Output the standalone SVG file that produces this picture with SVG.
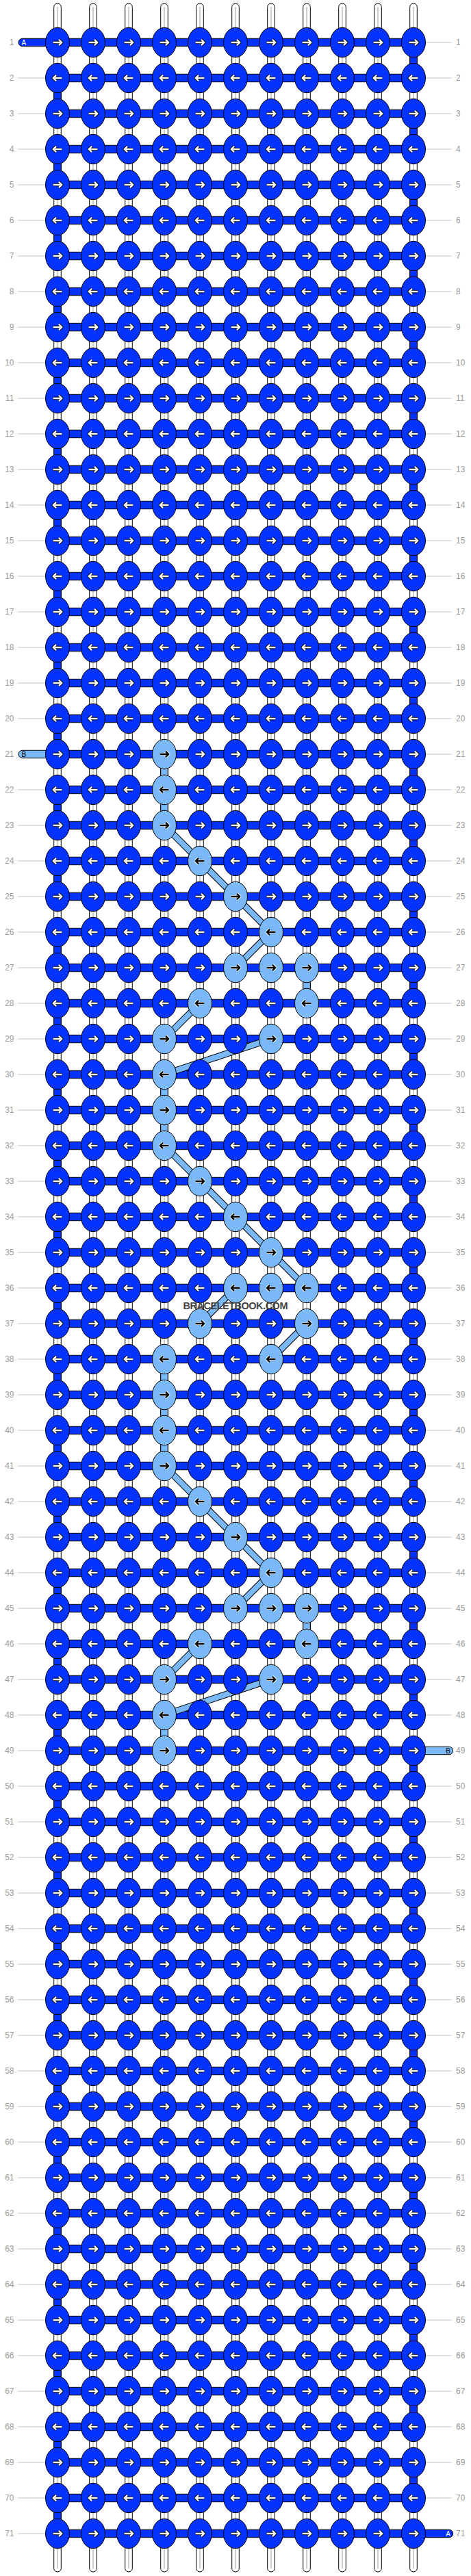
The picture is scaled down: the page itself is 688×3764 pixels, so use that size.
<svg xmlns="http://www.w3.org/2000/svg" xmlns:xlink="http://www.w3.org/1999/xlink" width="688" height="3764" viewBox="0 0 688 3764">
<style>
text{font-family:"Liberation Sans",Arial,sans-serif}
.lab{font-size:12px;fill:#9a9a9a}
.le{text-anchor:end}
.gl{stroke:#c4c4c4;stroke-width:1;fill:none}
.st{fill:#fff;stroke:#000;stroke-width:1}
.si{stroke:#d0d0d0;stroke-width:2.2}
.db{fill:#0433ff;stroke:#000;stroke-width:1}
.lb{fill:#7ab8f7;stroke:#000;stroke-width:1}
.dg0{stroke:#000;stroke-width:10}
.dg1{stroke:#7ab8f7;stroke-width:8}
.ao{fill:none;stroke:#000;stroke-width:4.4;stroke-linejoin:round}
.aw{fill:none;stroke:#fff;stroke-width:2.4;stroke-linejoin:round}
.bo{fill:none;stroke:#fff;stroke-width:4.2;stroke-linejoin:round}
.bk{fill:none;stroke:#000;stroke-width:2.4;stroke-linejoin:round}
.sw{font-size:10px;fill:#fff}
.sb{font-size:10px;fill:#000}
.wm{font-size:14.5px;font-weight:bold;fill:#444;text-anchor:middle}
</style>
<defs>
<g id="dr"><ellipse class="db" rx="17.5" ry="21.7"/><path class="ao" d="M-6.3 0H5.6M2-4.2 6.3 0 2 4.2"/><path class="aw" d="M-6.3 0H5.6M2-4.2 6.3 0 2 4.2"/></g>
<g id="dl"><ellipse class="db" rx="17.5" ry="21.7"/><path class="ao" d="M6.3 0H-5.6M-2-4.2-6.3 0-2 4.2"/><path class="aw" d="M6.3 0H-5.6M-2-4.2-6.3 0-2 4.2"/></g>
<g id="lr"><ellipse class="lb" rx="17.5" ry="21.7"/><path class="bo" d="M-6.3 0H5.6M2-4.2 6.3 0 2 4.2"/><path class="bk" d="M-6.3 0H5.6M2-4.2 6.3 0 2 4.2"/></g>
<g id="ll"><ellipse class="lb" rx="17.5" ry="21.7"/><path class="bo" d="M6.3 0H-5.6M-2-4.2-6.3 0-2 4.2"/><path class="bk" d="M6.3 0H-5.6M-2-4.2-6.3 0-2 4.2"/></g>
<rect id="vd" class="db" x="-5.3" y="0" width="10.6" height="52"/>
<rect id="vl" class="lb" x="-5.3" y="0" width="10.6" height="52"/>
<rect id="hb" class="db" x="84" y="-5.7" width="520" height="11.4"/>
</defs>
<rect width="688" height="3764" fill="#fff"/>
<g id="row-labels" class="lab">
<path class="gl" d="M26 114H66M26 166H66M26 218H66M26 270H66M26 322H66M26 374H66M26 426H66M26 478H66M26 530H66M26 582H66M26 634H66M26 686H66M26 738H66M26 790H66M26 842H66M26 894H66M26 946H66M26 998H66M26 1050H66M26 1154H66M26 1206H66M26 1258H66M26 1310H66M26 1362H66M26 1414H66M26 1466H66M26 1518H66M26 1570H66M26 1622H66M26 1674H66M26 1726H66M26 1778H66M26 1830H66M26 1882H66M26 1934H66M26 1986H66M26 2038H66M26 2090H66M26 2142H66M26 2194H66M26 2246H66M26 2298H66M26 2350H66M26 2402H66M26 2454H66M26 2506H66M26 2558H66M26 2610H66M26 2662H66M26 2714H66M26 2766H66M26 2818H66M26 2870H66M26 2922H66M26 2974H66M26 3026H66M26 3078H66M26 3130H66M26 3182H66M26 3234H66M26 3286H66M26 3338H66M26 3390H66M26 3442H66M26 3494H66M26 3546H66M26 3598H66M26 3650H66M26 3702H66"/>
<path class="gl" d="M622 62H660M622 114H660M622 166H660M622 218H660M622 270H660M622 322H660M622 374H660M622 426H660M622 478H660M622 530H660M622 582H660M622 634H660M622 686H660M622 738H660M622 790H660M622 842H660M622 894H660M622 946H660M622 998H660M622 1050H660M622 1102H660M622 1154H660M622 1206H660M622 1258H660M622 1310H660M622 1362H660M622 1414H660M622 1466H660M622 1518H660M622 1570H660M622 1622H660M622 1674H660M622 1726H660M622 1778H660M622 1830H660M622 1882H660M622 1934H660M622 1986H660M622 2038H660M622 2090H660M622 2142H660M622 2194H660M622 2246H660M622 2298H660M622 2350H660M622 2402H660M622 2454H660M622 2506H660M622 2610H660M622 2662H660M622 2714H660M622 2766H660M622 2818H660M622 2870H660M622 2922H660M622 2974H660M622 3026H660M622 3078H660M622 3130H660M622 3182H660M622 3234H660M622 3286H660M622 3338H660M622 3390H660M622 3442H660M622 3494H660M622 3546H660M622 3598H660M622 3650H660"/>
<g class="le">
<text x="20.5" y="66">1</text><text x="20.5" y="118">2</text><text x="20.5" y="170">3</text><text x="20.5" y="222">4</text><text x="20.5" y="274">5</text><text x="20.5" y="326">6</text><text x="20.5" y="378">7</text><text x="20.5" y="430">8</text><text x="20.5" y="482">9</text><text x="20.5" y="534">10</text>
<text x="20.5" y="586">11</text><text x="20.5" y="638">12</text><text x="20.5" y="690">13</text><text x="20.5" y="742">14</text><text x="20.5" y="794">15</text><text x="20.5" y="846">16</text><text x="20.5" y="898">17</text><text x="20.5" y="950">18</text><text x="20.5" y="1002">19</text><text x="20.5" y="1054">20</text>
<text x="20.5" y="1106">21</text><text x="20.5" y="1158">22</text><text x="20.5" y="1210">23</text><text x="20.5" y="1262">24</text><text x="20.5" y="1314">25</text><text x="20.5" y="1366">26</text><text x="20.5" y="1418">27</text><text x="20.5" y="1470">28</text><text x="20.5" y="1522">29</text><text x="20.5" y="1574">30</text>
<text x="20.5" y="1626">31</text><text x="20.5" y="1678">32</text><text x="20.5" y="1730">33</text><text x="20.5" y="1782">34</text><text x="20.5" y="1834">35</text><text x="20.5" y="1886">36</text><text x="20.5" y="1938">37</text><text x="20.5" y="1990">38</text><text x="20.5" y="2042">39</text><text x="20.5" y="2094">40</text>
<text x="20.5" y="2146">41</text><text x="20.5" y="2198">42</text><text x="20.5" y="2250">43</text><text x="20.5" y="2302">44</text><text x="20.5" y="2354">45</text><text x="20.5" y="2406">46</text><text x="20.5" y="2458">47</text><text x="20.5" y="2510">48</text><text x="20.5" y="2562">49</text><text x="20.5" y="2614">50</text>
<text x="20.5" y="2666">51</text><text x="20.5" y="2718">52</text><text x="20.5" y="2770">53</text><text x="20.5" y="2822">54</text><text x="20.5" y="2874">55</text><text x="20.5" y="2926">56</text><text x="20.5" y="2978">57</text><text x="20.5" y="3030">58</text><text x="20.5" y="3082">59</text><text x="20.5" y="3134">60</text>
<text x="20.5" y="3186">61</text><text x="20.5" y="3238">62</text><text x="20.5" y="3290">63</text><text x="20.5" y="3342">64</text><text x="20.5" y="3394">65</text><text x="20.5" y="3446">66</text><text x="20.5" y="3498">67</text><text x="20.5" y="3550">68</text><text x="20.5" y="3602">69</text><text x="20.5" y="3654">70</text>
<text x="20.5" y="3706">71</text>
</g>
<g>
<text x="666" y="66">1</text><text x="666" y="118">2</text><text x="666" y="170">3</text><text x="666" y="222">4</text><text x="666" y="274">5</text><text x="666" y="326">6</text><text x="666" y="378">7</text><text x="666" y="430">8</text><text x="666" y="482">9</text><text x="666" y="534">10</text>
<text x="666" y="586">11</text><text x="666" y="638">12</text><text x="666" y="690">13</text><text x="666" y="742">14</text><text x="666" y="794">15</text><text x="666" y="846">16</text><text x="666" y="898">17</text><text x="666" y="950">18</text><text x="666" y="1002">19</text><text x="666" y="1054">20</text>
<text x="666" y="1106">21</text><text x="666" y="1158">22</text><text x="666" y="1210">23</text><text x="666" y="1262">24</text><text x="666" y="1314">25</text><text x="666" y="1366">26</text><text x="666" y="1418">27</text><text x="666" y="1470">28</text><text x="666" y="1522">29</text><text x="666" y="1574">30</text>
<text x="666" y="1626">31</text><text x="666" y="1678">32</text><text x="666" y="1730">33</text><text x="666" y="1782">34</text><text x="666" y="1834">35</text><text x="666" y="1886">36</text><text x="666" y="1938">37</text><text x="666" y="1990">38</text><text x="666" y="2042">39</text><text x="666" y="2094">40</text>
<text x="666" y="2146">41</text><text x="666" y="2198">42</text><text x="666" y="2250">43</text><text x="666" y="2302">44</text><text x="666" y="2354">45</text><text x="666" y="2406">46</text><text x="666" y="2458">47</text><text x="666" y="2510">48</text><text x="666" y="2562">49</text><text x="666" y="2614">50</text>
<text x="666" y="2666">51</text><text x="666" y="2718">52</text><text x="666" y="2770">53</text><text x="666" y="2822">54</text><text x="666" y="2874">55</text><text x="666" y="2926">56</text><text x="666" y="2978">57</text><text x="666" y="3030">58</text><text x="666" y="3082">59</text><text x="666" y="3134">60</text>
<text x="666" y="3186">61</text><text x="666" y="3238">62</text><text x="666" y="3290">63</text><text x="666" y="3342">64</text><text x="666" y="3394">65</text><text x="666" y="3446">66</text><text x="666" y="3498">67</text><text x="666" y="3550">68</text><text x="666" y="3602">69</text><text x="666" y="3654">70</text>
<text x="666" y="3706">71</text>
</g>
</g>
<g id="strands">
<rect class="st" x="78.7" y="5" width="10.6" height="3753" rx="5.3"/><line class="si" x1="84" y1="10" x2="84" y2="3753"/>
<rect class="st" x="130.7" y="5" width="10.6" height="3753" rx="5.3"/><line class="si" x1="136" y1="10" x2="136" y2="3753"/>
<rect class="st" x="182.7" y="5" width="10.6" height="3753" rx="5.3"/><line class="si" x1="188" y1="10" x2="188" y2="3753"/>
<rect class="st" x="234.7" y="5" width="10.6" height="3753" rx="5.3"/><line class="si" x1="240" y1="10" x2="240" y2="3753"/>
<rect class="st" x="286.7" y="5" width="10.6" height="3753" rx="5.3"/><line class="si" x1="292" y1="10" x2="292" y2="3753"/>
<rect class="st" x="338.7" y="5" width="10.6" height="3753" rx="5.3"/><line class="si" x1="344" y1="10" x2="344" y2="3753"/>
<rect class="st" x="390.7" y="5" width="10.6" height="3753" rx="5.3"/><line class="si" x1="396" y1="10" x2="396" y2="3753"/>
<rect class="st" x="442.7" y="5" width="10.6" height="3753" rx="5.3"/><line class="si" x1="448" y1="10" x2="448" y2="3753"/>
<rect class="st" x="494.7" y="5" width="10.6" height="3753" rx="5.3"/><line class="si" x1="500" y1="10" x2="500" y2="3753"/>
<rect class="st" x="546.7" y="5" width="10.6" height="3753" rx="5.3"/><line class="si" x1="552" y1="10" x2="552" y2="3753"/>
<rect class="st" x="598.7" y="5" width="10.6" height="3753" rx="5.3"/><line class="si" x1="604" y1="10" x2="604" y2="3753"/>
</g>
<g id="connectors">
<g id="rows-h">
<use href="#hb" y="62"/><use href="#hb" y="114"/><use href="#hb" y="166"/><use href="#hb" y="218"/><use href="#hb" y="270"/><use href="#hb" y="322"/><use href="#hb" y="374"/><use href="#hb" y="426"/><use href="#hb" y="478"/><use href="#hb" y="530"/>
<use href="#hb" y="582"/><use href="#hb" y="634"/><use href="#hb" y="686"/><use href="#hb" y="738"/><use href="#hb" y="790"/><use href="#hb" y="842"/><use href="#hb" y="894"/><use href="#hb" y="946"/><use href="#hb" y="998"/><use href="#hb" y="1050"/>
<use href="#hb" y="1102"/><use href="#hb" y="1154"/><use href="#hb" y="1206"/><use href="#hb" y="1258"/><use href="#hb" y="1310"/><use href="#hb" y="1362"/><use href="#hb" y="1414"/><use href="#hb" y="1466"/><use href="#hb" y="1518"/><use href="#hb" y="1570"/>
<use href="#hb" y="1622"/><use href="#hb" y="1674"/><use href="#hb" y="1726"/><use href="#hb" y="1778"/><use href="#hb" y="1830"/><use href="#hb" y="1882"/><use href="#hb" y="1934"/><use href="#hb" y="1986"/><use href="#hb" y="2038"/><use href="#hb" y="2090"/>
<use href="#hb" y="2142"/><use href="#hb" y="2194"/><use href="#hb" y="2246"/><use href="#hb" y="2298"/><use href="#hb" y="2350"/><use href="#hb" y="2402"/><use href="#hb" y="2454"/><use href="#hb" y="2506"/><use href="#hb" y="2558"/><use href="#hb" y="2610"/>
<use href="#hb" y="2662"/><use href="#hb" y="2714"/><use href="#hb" y="2766"/><use href="#hb" y="2818"/><use href="#hb" y="2870"/><use href="#hb" y="2922"/><use href="#hb" y="2974"/><use href="#hb" y="3026"/><use href="#hb" y="3078"/><use href="#hb" y="3130"/>
<use href="#hb" y="3182"/><use href="#hb" y="3234"/><use href="#hb" y="3286"/><use href="#hb" y="3338"/><use href="#hb" y="3390"/><use href="#hb" y="3442"/><use href="#hb" y="3494"/><use href="#hb" y="3546"/><use href="#hb" y="3598"/><use href="#hb" y="3650"/>
<use href="#hb" y="3702"/>
</g>
<g id="turns">
<use href="#vd" x="604" y="62"/><use href="#vd" x="84" y="114"/><use href="#vd" x="604" y="166"/><use href="#vd" x="84" y="218"/><use href="#vd" x="604" y="270"/><use href="#vd" x="84" y="322"/><use href="#vd" x="604" y="374"/><use href="#vd" x="84" y="426"/><use href="#vd" x="604" y="478"/><use href="#vd" x="84" y="530"/>
<use href="#vd" x="604" y="582"/><use href="#vd" x="84" y="634"/><use href="#vd" x="604" y="686"/><use href="#vd" x="84" y="738"/><use href="#vd" x="604" y="790"/><use href="#vd" x="84" y="842"/><use href="#vd" x="604" y="894"/><use href="#vd" x="84" y="946"/><use href="#vd" x="604" y="998"/><use href="#vd" x="84" y="1050"/>
<use href="#vd" x="604" y="1102"/><use href="#vd" x="84" y="1154"/><use href="#vd" x="604" y="1206"/><use href="#vd" x="84" y="1258"/><use href="#vd" x="604" y="1310"/><use href="#vd" x="84" y="1362"/><use href="#vd" x="604" y="1414"/><use href="#vd" x="84" y="1466"/><use href="#vd" x="604" y="1518"/><use href="#vd" x="84" y="1570"/>
<use href="#vd" x="604" y="1622"/><use href="#vd" x="84" y="1674"/><use href="#vd" x="604" y="1726"/><use href="#vd" x="84" y="1778"/><use href="#vd" x="604" y="1830"/><use href="#vd" x="84" y="1882"/><use href="#vd" x="604" y="1934"/><use href="#vd" x="84" y="1986"/><use href="#vd" x="604" y="2038"/><use href="#vd" x="84" y="2090"/>
<use href="#vd" x="604" y="2142"/><use href="#vd" x="84" y="2194"/><use href="#vd" x="604" y="2246"/><use href="#vd" x="84" y="2298"/><use href="#vd" x="604" y="2350"/><use href="#vd" x="84" y="2402"/><use href="#vd" x="604" y="2454"/><use href="#vd" x="84" y="2506"/><use href="#vd" x="604" y="2558"/><use href="#vd" x="84" y="2610"/>
<use href="#vd" x="604" y="2662"/><use href="#vd" x="84" y="2714"/><use href="#vd" x="604" y="2766"/><use href="#vd" x="84" y="2818"/><use href="#vd" x="604" y="2870"/><use href="#vd" x="84" y="2922"/><use href="#vd" x="604" y="2974"/><use href="#vd" x="84" y="3026"/><use href="#vd" x="604" y="3078"/><use href="#vd" x="84" y="3130"/>
<use href="#vd" x="604" y="3182"/><use href="#vd" x="84" y="3234"/><use href="#vd" x="604" y="3286"/><use href="#vd" x="84" y="3338"/><use href="#vd" x="604" y="3390"/><use href="#vd" x="84" y="3442"/><use href="#vd" x="604" y="3494"/><use href="#vd" x="84" y="3546"/><use href="#vd" x="604" y="3598"/><use href="#vd" x="84" y="3650"/>
</g>
<g id="light-verticals">
<use href="#vl" x="240" y="1102"/><use href="#vl" x="240" y="1154"/><use href="#vl" x="448" y="1414"/><use href="#vl" x="240" y="1570"/><use href="#vl" x="240" y="1622"/><use href="#vl" x="240" y="1986"/><use href="#vl" x="240" y="2038"/><use href="#vl" x="240" y="2090"/><use href="#vl" x="448" y="2350"/><use href="#vl" x="240" y="2506"/>
</g>
<g id="diagonals">
<path class="dg0" d="M240 1206L292 1258M292 1258L344 1310M344 1310L396 1362M396 1362L344 1414M292 1466L240 1518M396 1518L240 1570M240 1674L292 1726M292 1726L344 1778M344 1778L396 1830M396 1830L448 1882M344 1882L292 1934M448 1934L396 1986M240 2142L292 2194M292 2194L344 2246M344 2246L396 2298M396 2298L344 2350M292 2402L240 2454M396 2454L240 2506"/>
<path class="dg1" d="M240 1206L292 1258M292 1258L344 1310M344 1310L396 1362M396 1362L344 1414M292 1466L240 1518M396 1518L240 1570M240 1674L292 1726M292 1726L344 1778M344 1778L396 1830M396 1830L448 1882M344 1882L292 1934M448 1934L396 1986M240 2142L292 2194M292 2194L344 2246M344 2246L396 2298M396 2298L344 2350M292 2402L240 2454M396 2454L240 2506"/>
</g>
<g id="stubs">
<rect class="db" x="27" y="56.3" width="50" height="11.4" rx="5.7"/><text class="sw" x="31.5" y="65.6">A</text>
<rect class="lb" x="27" y="1096.3" width="50" height="11.4" rx="5.7"/><text class="sb" x="31.5" y="1105.6">B</text>
<rect class="lb" x="611" y="2552.3" width="50.7" height="11.4" rx="5.7"/><text class="sb" x="658" y="2561.6" text-anchor="end">B</text>
<rect class="db" x="611" y="3696.3" width="50.7" height="11.4" rx="5.7"/><text class="sw" x="658" y="3705.6" text-anchor="end">A</text>
</g>
</g>
<g id="nodes">
<g id="row1" transform="translate(0 62)"><g id="n1-1"><use href="#dr" x="84"/></g><g id="n1-2"><use href="#dr" x="136"/></g><g id="n1-3"><use href="#dr" x="188"/></g><g id="n1-4"><use href="#dr" x="240"/></g><g id="n1-5"><use href="#dr" x="292"/></g><g id="n1-6"><use href="#dr" x="344"/></g><g id="n1-7"><use href="#dr" x="396"/></g><g id="n1-8"><use href="#dr" x="448"/></g><g id="n1-9"><use href="#dr" x="500"/></g><g id="n1-10"><use href="#dr" x="552"/></g><g id="n1-11"><use href="#dr" x="604"/></g></g>
<g id="row2" transform="translate(0 114)"><g id="n2-1"><use href="#dl" x="84"/></g><g id="n2-2"><use href="#dl" x="136"/></g><g id="n2-3"><use href="#dl" x="188"/></g><g id="n2-4"><use href="#dl" x="240"/></g><g id="n2-5"><use href="#dl" x="292"/></g><g id="n2-6"><use href="#dl" x="344"/></g><g id="n2-7"><use href="#dl" x="396"/></g><g id="n2-8"><use href="#dl" x="448"/></g><g id="n2-9"><use href="#dl" x="500"/></g><g id="n2-10"><use href="#dl" x="552"/></g><g id="n2-11"><use href="#dl" x="604"/></g></g>
<g id="row3" transform="translate(0 166)"><g id="n3-1"><use href="#dr" x="84"/></g><g id="n3-2"><use href="#dr" x="136"/></g><g id="n3-3"><use href="#dr" x="188"/></g><g id="n3-4"><use href="#dr" x="240"/></g><g id="n3-5"><use href="#dr" x="292"/></g><g id="n3-6"><use href="#dr" x="344"/></g><g id="n3-7"><use href="#dr" x="396"/></g><g id="n3-8"><use href="#dr" x="448"/></g><g id="n3-9"><use href="#dr" x="500"/></g><g id="n3-10"><use href="#dr" x="552"/></g><g id="n3-11"><use href="#dr" x="604"/></g></g>
<g id="row4" transform="translate(0 218)"><g id="n4-1"><use href="#dl" x="84"/></g><g id="n4-2"><use href="#dl" x="136"/></g><g id="n4-3"><use href="#dl" x="188"/></g><g id="n4-4"><use href="#dl" x="240"/></g><g id="n4-5"><use href="#dl" x="292"/></g><g id="n4-6"><use href="#dl" x="344"/></g><g id="n4-7"><use href="#dl" x="396"/></g><g id="n4-8"><use href="#dl" x="448"/></g><g id="n4-9"><use href="#dl" x="500"/></g><g id="n4-10"><use href="#dl" x="552"/></g><g id="n4-11"><use href="#dl" x="604"/></g></g>
<g id="row5" transform="translate(0 270)"><g id="n5-1"><use href="#dr" x="84"/></g><g id="n5-2"><use href="#dr" x="136"/></g><g id="n5-3"><use href="#dr" x="188"/></g><g id="n5-4"><use href="#dr" x="240"/></g><g id="n5-5"><use href="#dr" x="292"/></g><g id="n5-6"><use href="#dr" x="344"/></g><g id="n5-7"><use href="#dr" x="396"/></g><g id="n5-8"><use href="#dr" x="448"/></g><g id="n5-9"><use href="#dr" x="500"/></g><g id="n5-10"><use href="#dr" x="552"/></g><g id="n5-11"><use href="#dr" x="604"/></g></g>
<g id="row6" transform="translate(0 322)"><g id="n6-1"><use href="#dl" x="84"/></g><g id="n6-2"><use href="#dl" x="136"/></g><g id="n6-3"><use href="#dl" x="188"/></g><g id="n6-4"><use href="#dl" x="240"/></g><g id="n6-5"><use href="#dl" x="292"/></g><g id="n6-6"><use href="#dl" x="344"/></g><g id="n6-7"><use href="#dl" x="396"/></g><g id="n6-8"><use href="#dl" x="448"/></g><g id="n6-9"><use href="#dl" x="500"/></g><g id="n6-10"><use href="#dl" x="552"/></g><g id="n6-11"><use href="#dl" x="604"/></g></g>
<g id="row7" transform="translate(0 374)"><g id="n7-1"><use href="#dr" x="84"/></g><g id="n7-2"><use href="#dr" x="136"/></g><g id="n7-3"><use href="#dr" x="188"/></g><g id="n7-4"><use href="#dr" x="240"/></g><g id="n7-5"><use href="#dr" x="292"/></g><g id="n7-6"><use href="#dr" x="344"/></g><g id="n7-7"><use href="#dr" x="396"/></g><g id="n7-8"><use href="#dr" x="448"/></g><g id="n7-9"><use href="#dr" x="500"/></g><g id="n7-10"><use href="#dr" x="552"/></g><g id="n7-11"><use href="#dr" x="604"/></g></g>
<g id="row8" transform="translate(0 426)"><g id="n8-1"><use href="#dl" x="84"/></g><g id="n8-2"><use href="#dl" x="136"/></g><g id="n8-3"><use href="#dl" x="188"/></g><g id="n8-4"><use href="#dl" x="240"/></g><g id="n8-5"><use href="#dl" x="292"/></g><g id="n8-6"><use href="#dl" x="344"/></g><g id="n8-7"><use href="#dl" x="396"/></g><g id="n8-8"><use href="#dl" x="448"/></g><g id="n8-9"><use href="#dl" x="500"/></g><g id="n8-10"><use href="#dl" x="552"/></g><g id="n8-11"><use href="#dl" x="604"/></g></g>
<g id="row9" transform="translate(0 478)"><g id="n9-1"><use href="#dr" x="84"/></g><g id="n9-2"><use href="#dr" x="136"/></g><g id="n9-3"><use href="#dr" x="188"/></g><g id="n9-4"><use href="#dr" x="240"/></g><g id="n9-5"><use href="#dr" x="292"/></g><g id="n9-6"><use href="#dr" x="344"/></g><g id="n9-7"><use href="#dr" x="396"/></g><g id="n9-8"><use href="#dr" x="448"/></g><g id="n9-9"><use href="#dr" x="500"/></g><g id="n9-10"><use href="#dr" x="552"/></g><g id="n9-11"><use href="#dr" x="604"/></g></g>
<g id="row10" transform="translate(0 530)"><g id="n10-1"><use href="#dl" x="84"/></g><g id="n10-2"><use href="#dl" x="136"/></g><g id="n10-3"><use href="#dl" x="188"/></g><g id="n10-4"><use href="#dl" x="240"/></g><g id="n10-5"><use href="#dl" x="292"/></g><g id="n10-6"><use href="#dl" x="344"/></g><g id="n10-7"><use href="#dl" x="396"/></g><g id="n10-8"><use href="#dl" x="448"/></g><g id="n10-9"><use href="#dl" x="500"/></g><g id="n10-10"><use href="#dl" x="552"/></g><g id="n10-11"><use href="#dl" x="604"/></g></g>
<g id="row11" transform="translate(0 582)"><g id="n11-1"><use href="#dr" x="84"/></g><g id="n11-2"><use href="#dr" x="136"/></g><g id="n11-3"><use href="#dr" x="188"/></g><g id="n11-4"><use href="#dr" x="240"/></g><g id="n11-5"><use href="#dr" x="292"/></g><g id="n11-6"><use href="#dr" x="344"/></g><g id="n11-7"><use href="#dr" x="396"/></g><g id="n11-8"><use href="#dr" x="448"/></g><g id="n11-9"><use href="#dr" x="500"/></g><g id="n11-10"><use href="#dr" x="552"/></g><g id="n11-11"><use href="#dr" x="604"/></g></g>
<g id="row12" transform="translate(0 634)"><g id="n12-1"><use href="#dl" x="84"/></g><g id="n12-2"><use href="#dl" x="136"/></g><g id="n12-3"><use href="#dl" x="188"/></g><g id="n12-4"><use href="#dl" x="240"/></g><g id="n12-5"><use href="#dl" x="292"/></g><g id="n12-6"><use href="#dl" x="344"/></g><g id="n12-7"><use href="#dl" x="396"/></g><g id="n12-8"><use href="#dl" x="448"/></g><g id="n12-9"><use href="#dl" x="500"/></g><g id="n12-10"><use href="#dl" x="552"/></g><g id="n12-11"><use href="#dl" x="604"/></g></g>
<g id="row13" transform="translate(0 686)"><g id="n13-1"><use href="#dr" x="84"/></g><g id="n13-2"><use href="#dr" x="136"/></g><g id="n13-3"><use href="#dr" x="188"/></g><g id="n13-4"><use href="#dr" x="240"/></g><g id="n13-5"><use href="#dr" x="292"/></g><g id="n13-6"><use href="#dr" x="344"/></g><g id="n13-7"><use href="#dr" x="396"/></g><g id="n13-8"><use href="#dr" x="448"/></g><g id="n13-9"><use href="#dr" x="500"/></g><g id="n13-10"><use href="#dr" x="552"/></g><g id="n13-11"><use href="#dr" x="604"/></g></g>
<g id="row14" transform="translate(0 738)"><g id="n14-1"><use href="#dl" x="84"/></g><g id="n14-2"><use href="#dl" x="136"/></g><g id="n14-3"><use href="#dl" x="188"/></g><g id="n14-4"><use href="#dl" x="240"/></g><g id="n14-5"><use href="#dl" x="292"/></g><g id="n14-6"><use href="#dl" x="344"/></g><g id="n14-7"><use href="#dl" x="396"/></g><g id="n14-8"><use href="#dl" x="448"/></g><g id="n14-9"><use href="#dl" x="500"/></g><g id="n14-10"><use href="#dl" x="552"/></g><g id="n14-11"><use href="#dl" x="604"/></g></g>
<g id="row15" transform="translate(0 790)"><g id="n15-1"><use href="#dr" x="84"/></g><g id="n15-2"><use href="#dr" x="136"/></g><g id="n15-3"><use href="#dr" x="188"/></g><g id="n15-4"><use href="#dr" x="240"/></g><g id="n15-5"><use href="#dr" x="292"/></g><g id="n15-6"><use href="#dr" x="344"/></g><g id="n15-7"><use href="#dr" x="396"/></g><g id="n15-8"><use href="#dr" x="448"/></g><g id="n15-9"><use href="#dr" x="500"/></g><g id="n15-10"><use href="#dr" x="552"/></g><g id="n15-11"><use href="#dr" x="604"/></g></g>
<g id="row16" transform="translate(0 842)"><g id="n16-1"><use href="#dl" x="84"/></g><g id="n16-2"><use href="#dl" x="136"/></g><g id="n16-3"><use href="#dl" x="188"/></g><g id="n16-4"><use href="#dl" x="240"/></g><g id="n16-5"><use href="#dl" x="292"/></g><g id="n16-6"><use href="#dl" x="344"/></g><g id="n16-7"><use href="#dl" x="396"/></g><g id="n16-8"><use href="#dl" x="448"/></g><g id="n16-9"><use href="#dl" x="500"/></g><g id="n16-10"><use href="#dl" x="552"/></g><g id="n16-11"><use href="#dl" x="604"/></g></g>
<g id="row17" transform="translate(0 894)"><g id="n17-1"><use href="#dr" x="84"/></g><g id="n17-2"><use href="#dr" x="136"/></g><g id="n17-3"><use href="#dr" x="188"/></g><g id="n17-4"><use href="#dr" x="240"/></g><g id="n17-5"><use href="#dr" x="292"/></g><g id="n17-6"><use href="#dr" x="344"/></g><g id="n17-7"><use href="#dr" x="396"/></g><g id="n17-8"><use href="#dr" x="448"/></g><g id="n17-9"><use href="#dr" x="500"/></g><g id="n17-10"><use href="#dr" x="552"/></g><g id="n17-11"><use href="#dr" x="604"/></g></g>
<g id="row18" transform="translate(0 946)"><g id="n18-1"><use href="#dl" x="84"/></g><g id="n18-2"><use href="#dl" x="136"/></g><g id="n18-3"><use href="#dl" x="188"/></g><g id="n18-4"><use href="#dl" x="240"/></g><g id="n18-5"><use href="#dl" x="292"/></g><g id="n18-6"><use href="#dl" x="344"/></g><g id="n18-7"><use href="#dl" x="396"/></g><g id="n18-8"><use href="#dl" x="448"/></g><g id="n18-9"><use href="#dl" x="500"/></g><g id="n18-10"><use href="#dl" x="552"/></g><g id="n18-11"><use href="#dl" x="604"/></g></g>
<g id="row19" transform="translate(0 998)"><g id="n19-1"><use href="#dr" x="84"/></g><g id="n19-2"><use href="#dr" x="136"/></g><g id="n19-3"><use href="#dr" x="188"/></g><g id="n19-4"><use href="#dr" x="240"/></g><g id="n19-5"><use href="#dr" x="292"/></g><g id="n19-6"><use href="#dr" x="344"/></g><g id="n19-7"><use href="#dr" x="396"/></g><g id="n19-8"><use href="#dr" x="448"/></g><g id="n19-9"><use href="#dr" x="500"/></g><g id="n19-10"><use href="#dr" x="552"/></g><g id="n19-11"><use href="#dr" x="604"/></g></g>
<g id="row20" transform="translate(0 1050)"><g id="n20-1"><use href="#dl" x="84"/></g><g id="n20-2"><use href="#dl" x="136"/></g><g id="n20-3"><use href="#dl" x="188"/></g><g id="n20-4"><use href="#dl" x="240"/></g><g id="n20-5"><use href="#dl" x="292"/></g><g id="n20-6"><use href="#dl" x="344"/></g><g id="n20-7"><use href="#dl" x="396"/></g><g id="n20-8"><use href="#dl" x="448"/></g><g id="n20-9"><use href="#dl" x="500"/></g><g id="n20-10"><use href="#dl" x="552"/></g><g id="n20-11"><use href="#dl" x="604"/></g></g>
<g id="row21" transform="translate(0 1102)"><g id="n21-1"><use href="#dr" x="84"/></g><g id="n21-2"><use href="#dr" x="136"/></g><g id="n21-3"><use href="#dr" x="188"/></g><g id="n21-4"><use href="#lr" x="240"/></g><g id="n21-5"><use href="#dr" x="292"/></g><g id="n21-6"><use href="#dr" x="344"/></g><g id="n21-7"><use href="#dr" x="396"/></g><g id="n21-8"><use href="#dr" x="448"/></g><g id="n21-9"><use href="#dr" x="500"/></g><g id="n21-10"><use href="#dr" x="552"/></g><g id="n21-11"><use href="#dr" x="604"/></g></g>
<g id="row22" transform="translate(0 1154)"><g id="n22-1"><use href="#dl" x="84"/></g><g id="n22-2"><use href="#dl" x="136"/></g><g id="n22-3"><use href="#dl" x="188"/></g><g id="n22-4"><use href="#ll" x="240"/></g><g id="n22-5"><use href="#dl" x="292"/></g><g id="n22-6"><use href="#dl" x="344"/></g><g id="n22-7"><use href="#dl" x="396"/></g><g id="n22-8"><use href="#dl" x="448"/></g><g id="n22-9"><use href="#dl" x="500"/></g><g id="n22-10"><use href="#dl" x="552"/></g><g id="n22-11"><use href="#dl" x="604"/></g></g>
<g id="row23" transform="translate(0 1206)"><g id="n23-1"><use href="#dr" x="84"/></g><g id="n23-2"><use href="#dr" x="136"/></g><g id="n23-3"><use href="#dr" x="188"/></g><g id="n23-4"><use href="#lr" x="240"/></g><g id="n23-5"><use href="#dr" x="292"/></g><g id="n23-6"><use href="#dr" x="344"/></g><g id="n23-7"><use href="#dr" x="396"/></g><g id="n23-8"><use href="#dr" x="448"/></g><g id="n23-9"><use href="#dr" x="500"/></g><g id="n23-10"><use href="#dr" x="552"/></g><g id="n23-11"><use href="#dr" x="604"/></g></g>
<g id="row24" transform="translate(0 1258)"><g id="n24-1"><use href="#dl" x="84"/></g><g id="n24-2"><use href="#dl" x="136"/></g><g id="n24-3"><use href="#dl" x="188"/></g><g id="n24-4"><use href="#dl" x="240"/></g><g id="n24-5"><use href="#ll" x="292"/></g><g id="n24-6"><use href="#dl" x="344"/></g><g id="n24-7"><use href="#dl" x="396"/></g><g id="n24-8"><use href="#dl" x="448"/></g><g id="n24-9"><use href="#dl" x="500"/></g><g id="n24-10"><use href="#dl" x="552"/></g><g id="n24-11"><use href="#dl" x="604"/></g></g>
<g id="row25" transform="translate(0 1310)"><g id="n25-1"><use href="#dr" x="84"/></g><g id="n25-2"><use href="#dr" x="136"/></g><g id="n25-3"><use href="#dr" x="188"/></g><g id="n25-4"><use href="#dr" x="240"/></g><g id="n25-5"><use href="#dr" x="292"/></g><g id="n25-6"><use href="#lr" x="344"/></g><g id="n25-7"><use href="#dr" x="396"/></g><g id="n25-8"><use href="#dr" x="448"/></g><g id="n25-9"><use href="#dr" x="500"/></g><g id="n25-10"><use href="#dr" x="552"/></g><g id="n25-11"><use href="#dr" x="604"/></g></g>
<g id="row26" transform="translate(0 1362)"><g id="n26-1"><use href="#dl" x="84"/></g><g id="n26-2"><use href="#dl" x="136"/></g><g id="n26-3"><use href="#dl" x="188"/></g><g id="n26-4"><use href="#dl" x="240"/></g><g id="n26-5"><use href="#dl" x="292"/></g><g id="n26-6"><use href="#dl" x="344"/></g><g id="n26-7"><use href="#ll" x="396"/></g><g id="n26-8"><use href="#dl" x="448"/></g><g id="n26-9"><use href="#dl" x="500"/></g><g id="n26-10"><use href="#dl" x="552"/></g><g id="n26-11"><use href="#dl" x="604"/></g></g>
<g id="row27" transform="translate(0 1414)"><g id="n27-1"><use href="#dr" x="84"/></g><g id="n27-2"><use href="#dr" x="136"/></g><g id="n27-3"><use href="#dr" x="188"/></g><g id="n27-4"><use href="#dr" x="240"/></g><g id="n27-5"><use href="#dr" x="292"/></g><g id="n27-6"><use href="#lr" x="344"/></g><g id="n27-7"><use href="#lr" x="396"/></g><g id="n27-8"><use href="#lr" x="448"/></g><g id="n27-9"><use href="#dr" x="500"/></g><g id="n27-10"><use href="#dr" x="552"/></g><g id="n27-11"><use href="#dr" x="604"/></g></g>
<g id="row28" transform="translate(0 1466)"><g id="n28-1"><use href="#dl" x="84"/></g><g id="n28-2"><use href="#dl" x="136"/></g><g id="n28-3"><use href="#dl" x="188"/></g><g id="n28-4"><use href="#dl" x="240"/></g><g id="n28-5"><use href="#ll" x="292"/></g><g id="n28-6"><use href="#dl" x="344"/></g><g id="n28-7"><use href="#dl" x="396"/></g><g id="n28-8"><use href="#ll" x="448"/></g><g id="n28-9"><use href="#dl" x="500"/></g><g id="n28-10"><use href="#dl" x="552"/></g><g id="n28-11"><use href="#dl" x="604"/></g></g>
<g id="row29" transform="translate(0 1518)"><g id="n29-1"><use href="#dr" x="84"/></g><g id="n29-2"><use href="#dr" x="136"/></g><g id="n29-3"><use href="#dr" x="188"/></g><g id="n29-4"><use href="#lr" x="240"/></g><g id="n29-5"><use href="#dr" x="292"/></g><g id="n29-6"><use href="#dr" x="344"/></g><g id="n29-7"><use href="#lr" x="396"/></g><g id="n29-8"><use href="#dr" x="448"/></g><g id="n29-9"><use href="#dr" x="500"/></g><g id="n29-10"><use href="#dr" x="552"/></g><g id="n29-11"><use href="#dr" x="604"/></g></g>
<g id="row30" transform="translate(0 1570)"><g id="n30-1"><use href="#dl" x="84"/></g><g id="n30-2"><use href="#dl" x="136"/></g><g id="n30-3"><use href="#dl" x="188"/></g><g id="n30-4"><use href="#ll" x="240"/></g><g id="n30-5"><use href="#dl" x="292"/></g><g id="n30-6"><use href="#dl" x="344"/></g><g id="n30-7"><use href="#dl" x="396"/></g><g id="n30-8"><use href="#dl" x="448"/></g><g id="n30-9"><use href="#dl" x="500"/></g><g id="n30-10"><use href="#dl" x="552"/></g><g id="n30-11"><use href="#dl" x="604"/></g></g>
<g id="row31" transform="translate(0 1622)"><g id="n31-1"><use href="#dr" x="84"/></g><g id="n31-2"><use href="#dr" x="136"/></g><g id="n31-3"><use href="#dr" x="188"/></g><g id="n31-4"><use href="#lr" x="240"/></g><g id="n31-5"><use href="#dr" x="292"/></g><g id="n31-6"><use href="#dr" x="344"/></g><g id="n31-7"><use href="#dr" x="396"/></g><g id="n31-8"><use href="#dr" x="448"/></g><g id="n31-9"><use href="#dr" x="500"/></g><g id="n31-10"><use href="#dr" x="552"/></g><g id="n31-11"><use href="#dr" x="604"/></g></g>
<g id="row32" transform="translate(0 1674)"><g id="n32-1"><use href="#dl" x="84"/></g><g id="n32-2"><use href="#dl" x="136"/></g><g id="n32-3"><use href="#dl" x="188"/></g><g id="n32-4"><use href="#ll" x="240"/></g><g id="n32-5"><use href="#dl" x="292"/></g><g id="n32-6"><use href="#dl" x="344"/></g><g id="n32-7"><use href="#dl" x="396"/></g><g id="n32-8"><use href="#dl" x="448"/></g><g id="n32-9"><use href="#dl" x="500"/></g><g id="n32-10"><use href="#dl" x="552"/></g><g id="n32-11"><use href="#dl" x="604"/></g></g>
<g id="row33" transform="translate(0 1726)"><g id="n33-1"><use href="#dr" x="84"/></g><g id="n33-2"><use href="#dr" x="136"/></g><g id="n33-3"><use href="#dr" x="188"/></g><g id="n33-4"><use href="#dr" x="240"/></g><g id="n33-5"><use href="#lr" x="292"/></g><g id="n33-6"><use href="#dr" x="344"/></g><g id="n33-7"><use href="#dr" x="396"/></g><g id="n33-8"><use href="#dr" x="448"/></g><g id="n33-9"><use href="#dr" x="500"/></g><g id="n33-10"><use href="#dr" x="552"/></g><g id="n33-11"><use href="#dr" x="604"/></g></g>
<g id="row34" transform="translate(0 1778)"><g id="n34-1"><use href="#dl" x="84"/></g><g id="n34-2"><use href="#dl" x="136"/></g><g id="n34-3"><use href="#dl" x="188"/></g><g id="n34-4"><use href="#dl" x="240"/></g><g id="n34-5"><use href="#dl" x="292"/></g><g id="n34-6"><use href="#ll" x="344"/></g><g id="n34-7"><use href="#dl" x="396"/></g><g id="n34-8"><use href="#dl" x="448"/></g><g id="n34-9"><use href="#dl" x="500"/></g><g id="n34-10"><use href="#dl" x="552"/></g><g id="n34-11"><use href="#dl" x="604"/></g></g>
<g id="row35" transform="translate(0 1830)"><g id="n35-1"><use href="#dr" x="84"/></g><g id="n35-2"><use href="#dr" x="136"/></g><g id="n35-3"><use href="#dr" x="188"/></g><g id="n35-4"><use href="#dr" x="240"/></g><g id="n35-5"><use href="#dr" x="292"/></g><g id="n35-6"><use href="#dr" x="344"/></g><g id="n35-7"><use href="#lr" x="396"/></g><g id="n35-8"><use href="#dr" x="448"/></g><g id="n35-9"><use href="#dr" x="500"/></g><g id="n35-10"><use href="#dr" x="552"/></g><g id="n35-11"><use href="#dr" x="604"/></g></g>
<g id="row36" transform="translate(0 1882)"><g id="n36-1"><use href="#dl" x="84"/></g><g id="n36-2"><use href="#dl" x="136"/></g><g id="n36-3"><use href="#dl" x="188"/></g><g id="n36-4"><use href="#dl" x="240"/></g><g id="n36-5"><use href="#dl" x="292"/></g><g id="n36-6"><use href="#ll" x="344"/></g><g id="n36-7"><use href="#ll" x="396"/></g><g id="n36-8"><use href="#ll" x="448"/></g><g id="n36-9"><use href="#dl" x="500"/></g><g id="n36-10"><use href="#dl" x="552"/></g><g id="n36-11"><use href="#dl" x="604"/></g></g>
<g id="row37" transform="translate(0 1934)"><g id="n37-1"><use href="#dr" x="84"/></g><g id="n37-2"><use href="#dr" x="136"/></g><g id="n37-3"><use href="#dr" x="188"/></g><g id="n37-4"><use href="#dr" x="240"/></g><g id="n37-5"><use href="#lr" x="292"/></g><g id="n37-6"><use href="#dr" x="344"/></g><g id="n37-7"><use href="#dr" x="396"/></g><g id="n37-8"><use href="#lr" x="448"/></g><g id="n37-9"><use href="#dr" x="500"/></g><g id="n37-10"><use href="#dr" x="552"/></g><g id="n37-11"><use href="#dr" x="604"/></g></g>
<g id="row38" transform="translate(0 1986)"><g id="n38-1"><use href="#dl" x="84"/></g><g id="n38-2"><use href="#dl" x="136"/></g><g id="n38-3"><use href="#dl" x="188"/></g><g id="n38-4"><use href="#ll" x="240"/></g><g id="n38-5"><use href="#dl" x="292"/></g><g id="n38-6"><use href="#dl" x="344"/></g><g id="n38-7"><use href="#ll" x="396"/></g><g id="n38-8"><use href="#dl" x="448"/></g><g id="n38-9"><use href="#dl" x="500"/></g><g id="n38-10"><use href="#dl" x="552"/></g><g id="n38-11"><use href="#dl" x="604"/></g></g>
<g id="row39" transform="translate(0 2038)"><g id="n39-1"><use href="#dr" x="84"/></g><g id="n39-2"><use href="#dr" x="136"/></g><g id="n39-3"><use href="#dr" x="188"/></g><g id="n39-4"><use href="#lr" x="240"/></g><g id="n39-5"><use href="#dr" x="292"/></g><g id="n39-6"><use href="#dr" x="344"/></g><g id="n39-7"><use href="#dr" x="396"/></g><g id="n39-8"><use href="#dr" x="448"/></g><g id="n39-9"><use href="#dr" x="500"/></g><g id="n39-10"><use href="#dr" x="552"/></g><g id="n39-11"><use href="#dr" x="604"/></g></g>
<g id="row40" transform="translate(0 2090)"><g id="n40-1"><use href="#dl" x="84"/></g><g id="n40-2"><use href="#dl" x="136"/></g><g id="n40-3"><use href="#dl" x="188"/></g><g id="n40-4"><use href="#ll" x="240"/></g><g id="n40-5"><use href="#dl" x="292"/></g><g id="n40-6"><use href="#dl" x="344"/></g><g id="n40-7"><use href="#dl" x="396"/></g><g id="n40-8"><use href="#dl" x="448"/></g><g id="n40-9"><use href="#dl" x="500"/></g><g id="n40-10"><use href="#dl" x="552"/></g><g id="n40-11"><use href="#dl" x="604"/></g></g>
<g id="row41" transform="translate(0 2142)"><g id="n41-1"><use href="#dr" x="84"/></g><g id="n41-2"><use href="#dr" x="136"/></g><g id="n41-3"><use href="#dr" x="188"/></g><g id="n41-4"><use href="#lr" x="240"/></g><g id="n41-5"><use href="#dr" x="292"/></g><g id="n41-6"><use href="#dr" x="344"/></g><g id="n41-7"><use href="#dr" x="396"/></g><g id="n41-8"><use href="#dr" x="448"/></g><g id="n41-9"><use href="#dr" x="500"/></g><g id="n41-10"><use href="#dr" x="552"/></g><g id="n41-11"><use href="#dr" x="604"/></g></g>
<g id="row42" transform="translate(0 2194)"><g id="n42-1"><use href="#dl" x="84"/></g><g id="n42-2"><use href="#dl" x="136"/></g><g id="n42-3"><use href="#dl" x="188"/></g><g id="n42-4"><use href="#dl" x="240"/></g><g id="n42-5"><use href="#ll" x="292"/></g><g id="n42-6"><use href="#dl" x="344"/></g><g id="n42-7"><use href="#dl" x="396"/></g><g id="n42-8"><use href="#dl" x="448"/></g><g id="n42-9"><use href="#dl" x="500"/></g><g id="n42-10"><use href="#dl" x="552"/></g><g id="n42-11"><use href="#dl" x="604"/></g></g>
<g id="row43" transform="translate(0 2246)"><g id="n43-1"><use href="#dr" x="84"/></g><g id="n43-2"><use href="#dr" x="136"/></g><g id="n43-3"><use href="#dr" x="188"/></g><g id="n43-4"><use href="#dr" x="240"/></g><g id="n43-5"><use href="#dr" x="292"/></g><g id="n43-6"><use href="#lr" x="344"/></g><g id="n43-7"><use href="#dr" x="396"/></g><g id="n43-8"><use href="#dr" x="448"/></g><g id="n43-9"><use href="#dr" x="500"/></g><g id="n43-10"><use href="#dr" x="552"/></g><g id="n43-11"><use href="#dr" x="604"/></g></g>
<g id="row44" transform="translate(0 2298)"><g id="n44-1"><use href="#dl" x="84"/></g><g id="n44-2"><use href="#dl" x="136"/></g><g id="n44-3"><use href="#dl" x="188"/></g><g id="n44-4"><use href="#dl" x="240"/></g><g id="n44-5"><use href="#dl" x="292"/></g><g id="n44-6"><use href="#dl" x="344"/></g><g id="n44-7"><use href="#ll" x="396"/></g><g id="n44-8"><use href="#dl" x="448"/></g><g id="n44-9"><use href="#dl" x="500"/></g><g id="n44-10"><use href="#dl" x="552"/></g><g id="n44-11"><use href="#dl" x="604"/></g></g>
<g id="row45" transform="translate(0 2350)"><g id="n45-1"><use href="#dr" x="84"/></g><g id="n45-2"><use href="#dr" x="136"/></g><g id="n45-3"><use href="#dr" x="188"/></g><g id="n45-4"><use href="#dr" x="240"/></g><g id="n45-5"><use href="#dr" x="292"/></g><g id="n45-6"><use href="#lr" x="344"/></g><g id="n45-7"><use href="#lr" x="396"/></g><g id="n45-8"><use href="#lr" x="448"/></g><g id="n45-9"><use href="#dr" x="500"/></g><g id="n45-10"><use href="#dr" x="552"/></g><g id="n45-11"><use href="#dr" x="604"/></g></g>
<g id="row46" transform="translate(0 2402)"><g id="n46-1"><use href="#dl" x="84"/></g><g id="n46-2"><use href="#dl" x="136"/></g><g id="n46-3"><use href="#dl" x="188"/></g><g id="n46-4"><use href="#dl" x="240"/></g><g id="n46-5"><use href="#ll" x="292"/></g><g id="n46-6"><use href="#dl" x="344"/></g><g id="n46-7"><use href="#dl" x="396"/></g><g id="n46-8"><use href="#ll" x="448"/></g><g id="n46-9"><use href="#dl" x="500"/></g><g id="n46-10"><use href="#dl" x="552"/></g><g id="n46-11"><use href="#dl" x="604"/></g></g>
<g id="row47" transform="translate(0 2454)"><g id="n47-1"><use href="#dr" x="84"/></g><g id="n47-2"><use href="#dr" x="136"/></g><g id="n47-3"><use href="#dr" x="188"/></g><g id="n47-4"><use href="#lr" x="240"/></g><g id="n47-5"><use href="#dr" x="292"/></g><g id="n47-6"><use href="#dr" x="344"/></g><g id="n47-7"><use href="#lr" x="396"/></g><g id="n47-8"><use href="#dr" x="448"/></g><g id="n47-9"><use href="#dr" x="500"/></g><g id="n47-10"><use href="#dr" x="552"/></g><g id="n47-11"><use href="#dr" x="604"/></g></g>
<g id="row48" transform="translate(0 2506)"><g id="n48-1"><use href="#dl" x="84"/></g><g id="n48-2"><use href="#dl" x="136"/></g><g id="n48-3"><use href="#dl" x="188"/></g><g id="n48-4"><use href="#ll" x="240"/></g><g id="n48-5"><use href="#dl" x="292"/></g><g id="n48-6"><use href="#dl" x="344"/></g><g id="n48-7"><use href="#dl" x="396"/></g><g id="n48-8"><use href="#dl" x="448"/></g><g id="n48-9"><use href="#dl" x="500"/></g><g id="n48-10"><use href="#dl" x="552"/></g><g id="n48-11"><use href="#dl" x="604"/></g></g>
<g id="row49" transform="translate(0 2558)"><g id="n49-1"><use href="#dr" x="84"/></g><g id="n49-2"><use href="#dr" x="136"/></g><g id="n49-3"><use href="#dr" x="188"/></g><g id="n49-4"><use href="#lr" x="240"/></g><g id="n49-5"><use href="#dr" x="292"/></g><g id="n49-6"><use href="#dr" x="344"/></g><g id="n49-7"><use href="#dr" x="396"/></g><g id="n49-8"><use href="#dr" x="448"/></g><g id="n49-9"><use href="#dr" x="500"/></g><g id="n49-10"><use href="#dr" x="552"/></g><g id="n49-11"><use href="#dr" x="604"/></g></g>
<g id="row50" transform="translate(0 2610)"><g id="n50-1"><use href="#dl" x="84"/></g><g id="n50-2"><use href="#dl" x="136"/></g><g id="n50-3"><use href="#dl" x="188"/></g><g id="n50-4"><use href="#dl" x="240"/></g><g id="n50-5"><use href="#dl" x="292"/></g><g id="n50-6"><use href="#dl" x="344"/></g><g id="n50-7"><use href="#dl" x="396"/></g><g id="n50-8"><use href="#dl" x="448"/></g><g id="n50-9"><use href="#dl" x="500"/></g><g id="n50-10"><use href="#dl" x="552"/></g><g id="n50-11"><use href="#dl" x="604"/></g></g>
<g id="row51" transform="translate(0 2662)"><g id="n51-1"><use href="#dr" x="84"/></g><g id="n51-2"><use href="#dr" x="136"/></g><g id="n51-3"><use href="#dr" x="188"/></g><g id="n51-4"><use href="#dr" x="240"/></g><g id="n51-5"><use href="#dr" x="292"/></g><g id="n51-6"><use href="#dr" x="344"/></g><g id="n51-7"><use href="#dr" x="396"/></g><g id="n51-8"><use href="#dr" x="448"/></g><g id="n51-9"><use href="#dr" x="500"/></g><g id="n51-10"><use href="#dr" x="552"/></g><g id="n51-11"><use href="#dr" x="604"/></g></g>
<g id="row52" transform="translate(0 2714)"><g id="n52-1"><use href="#dl" x="84"/></g><g id="n52-2"><use href="#dl" x="136"/></g><g id="n52-3"><use href="#dl" x="188"/></g><g id="n52-4"><use href="#dl" x="240"/></g><g id="n52-5"><use href="#dl" x="292"/></g><g id="n52-6"><use href="#dl" x="344"/></g><g id="n52-7"><use href="#dl" x="396"/></g><g id="n52-8"><use href="#dl" x="448"/></g><g id="n52-9"><use href="#dl" x="500"/></g><g id="n52-10"><use href="#dl" x="552"/></g><g id="n52-11"><use href="#dl" x="604"/></g></g>
<g id="row53" transform="translate(0 2766)"><g id="n53-1"><use href="#dr" x="84"/></g><g id="n53-2"><use href="#dr" x="136"/></g><g id="n53-3"><use href="#dr" x="188"/></g><g id="n53-4"><use href="#dr" x="240"/></g><g id="n53-5"><use href="#dr" x="292"/></g><g id="n53-6"><use href="#dr" x="344"/></g><g id="n53-7"><use href="#dr" x="396"/></g><g id="n53-8"><use href="#dr" x="448"/></g><g id="n53-9"><use href="#dr" x="500"/></g><g id="n53-10"><use href="#dr" x="552"/></g><g id="n53-11"><use href="#dr" x="604"/></g></g>
<g id="row54" transform="translate(0 2818)"><g id="n54-1"><use href="#dl" x="84"/></g><g id="n54-2"><use href="#dl" x="136"/></g><g id="n54-3"><use href="#dl" x="188"/></g><g id="n54-4"><use href="#dl" x="240"/></g><g id="n54-5"><use href="#dl" x="292"/></g><g id="n54-6"><use href="#dl" x="344"/></g><g id="n54-7"><use href="#dl" x="396"/></g><g id="n54-8"><use href="#dl" x="448"/></g><g id="n54-9"><use href="#dl" x="500"/></g><g id="n54-10"><use href="#dl" x="552"/></g><g id="n54-11"><use href="#dl" x="604"/></g></g>
<g id="row55" transform="translate(0 2870)"><g id="n55-1"><use href="#dr" x="84"/></g><g id="n55-2"><use href="#dr" x="136"/></g><g id="n55-3"><use href="#dr" x="188"/></g><g id="n55-4"><use href="#dr" x="240"/></g><g id="n55-5"><use href="#dr" x="292"/></g><g id="n55-6"><use href="#dr" x="344"/></g><g id="n55-7"><use href="#dr" x="396"/></g><g id="n55-8"><use href="#dr" x="448"/></g><g id="n55-9"><use href="#dr" x="500"/></g><g id="n55-10"><use href="#dr" x="552"/></g><g id="n55-11"><use href="#dr" x="604"/></g></g>
<g id="row56" transform="translate(0 2922)"><g id="n56-1"><use href="#dl" x="84"/></g><g id="n56-2"><use href="#dl" x="136"/></g><g id="n56-3"><use href="#dl" x="188"/></g><g id="n56-4"><use href="#dl" x="240"/></g><g id="n56-5"><use href="#dl" x="292"/></g><g id="n56-6"><use href="#dl" x="344"/></g><g id="n56-7"><use href="#dl" x="396"/></g><g id="n56-8"><use href="#dl" x="448"/></g><g id="n56-9"><use href="#dl" x="500"/></g><g id="n56-10"><use href="#dl" x="552"/></g><g id="n56-11"><use href="#dl" x="604"/></g></g>
<g id="row57" transform="translate(0 2974)"><g id="n57-1"><use href="#dr" x="84"/></g><g id="n57-2"><use href="#dr" x="136"/></g><g id="n57-3"><use href="#dr" x="188"/></g><g id="n57-4"><use href="#dr" x="240"/></g><g id="n57-5"><use href="#dr" x="292"/></g><g id="n57-6"><use href="#dr" x="344"/></g><g id="n57-7"><use href="#dr" x="396"/></g><g id="n57-8"><use href="#dr" x="448"/></g><g id="n57-9"><use href="#dr" x="500"/></g><g id="n57-10"><use href="#dr" x="552"/></g><g id="n57-11"><use href="#dr" x="604"/></g></g>
<g id="row58" transform="translate(0 3026)"><g id="n58-1"><use href="#dl" x="84"/></g><g id="n58-2"><use href="#dl" x="136"/></g><g id="n58-3"><use href="#dl" x="188"/></g><g id="n58-4"><use href="#dl" x="240"/></g><g id="n58-5"><use href="#dl" x="292"/></g><g id="n58-6"><use href="#dl" x="344"/></g><g id="n58-7"><use href="#dl" x="396"/></g><g id="n58-8"><use href="#dl" x="448"/></g><g id="n58-9"><use href="#dl" x="500"/></g><g id="n58-10"><use href="#dl" x="552"/></g><g id="n58-11"><use href="#dl" x="604"/></g></g>
<g id="row59" transform="translate(0 3078)"><g id="n59-1"><use href="#dr" x="84"/></g><g id="n59-2"><use href="#dr" x="136"/></g><g id="n59-3"><use href="#dr" x="188"/></g><g id="n59-4"><use href="#dr" x="240"/></g><g id="n59-5"><use href="#dr" x="292"/></g><g id="n59-6"><use href="#dr" x="344"/></g><g id="n59-7"><use href="#dr" x="396"/></g><g id="n59-8"><use href="#dr" x="448"/></g><g id="n59-9"><use href="#dr" x="500"/></g><g id="n59-10"><use href="#dr" x="552"/></g><g id="n59-11"><use href="#dr" x="604"/></g></g>
<g id="row60" transform="translate(0 3130)"><g id="n60-1"><use href="#dl" x="84"/></g><g id="n60-2"><use href="#dl" x="136"/></g><g id="n60-3"><use href="#dl" x="188"/></g><g id="n60-4"><use href="#dl" x="240"/></g><g id="n60-5"><use href="#dl" x="292"/></g><g id="n60-6"><use href="#dl" x="344"/></g><g id="n60-7"><use href="#dl" x="396"/></g><g id="n60-8"><use href="#dl" x="448"/></g><g id="n60-9"><use href="#dl" x="500"/></g><g id="n60-10"><use href="#dl" x="552"/></g><g id="n60-11"><use href="#dl" x="604"/></g></g>
<g id="row61" transform="translate(0 3182)"><g id="n61-1"><use href="#dr" x="84"/></g><g id="n61-2"><use href="#dr" x="136"/></g><g id="n61-3"><use href="#dr" x="188"/></g><g id="n61-4"><use href="#dr" x="240"/></g><g id="n61-5"><use href="#dr" x="292"/></g><g id="n61-6"><use href="#dr" x="344"/></g><g id="n61-7"><use href="#dr" x="396"/></g><g id="n61-8"><use href="#dr" x="448"/></g><g id="n61-9"><use href="#dr" x="500"/></g><g id="n61-10"><use href="#dr" x="552"/></g><g id="n61-11"><use href="#dr" x="604"/></g></g>
<g id="row62" transform="translate(0 3234)"><g id="n62-1"><use href="#dl" x="84"/></g><g id="n62-2"><use href="#dl" x="136"/></g><g id="n62-3"><use href="#dl" x="188"/></g><g id="n62-4"><use href="#dl" x="240"/></g><g id="n62-5"><use href="#dl" x="292"/></g><g id="n62-6"><use href="#dl" x="344"/></g><g id="n62-7"><use href="#dl" x="396"/></g><g id="n62-8"><use href="#dl" x="448"/></g><g id="n62-9"><use href="#dl" x="500"/></g><g id="n62-10"><use href="#dl" x="552"/></g><g id="n62-11"><use href="#dl" x="604"/></g></g>
<g id="row63" transform="translate(0 3286)"><g id="n63-1"><use href="#dr" x="84"/></g><g id="n63-2"><use href="#dr" x="136"/></g><g id="n63-3"><use href="#dr" x="188"/></g><g id="n63-4"><use href="#dr" x="240"/></g><g id="n63-5"><use href="#dr" x="292"/></g><g id="n63-6"><use href="#dr" x="344"/></g><g id="n63-7"><use href="#dr" x="396"/></g><g id="n63-8"><use href="#dr" x="448"/></g><g id="n63-9"><use href="#dr" x="500"/></g><g id="n63-10"><use href="#dr" x="552"/></g><g id="n63-11"><use href="#dr" x="604"/></g></g>
<g id="row64" transform="translate(0 3338)"><g id="n64-1"><use href="#dl" x="84"/></g><g id="n64-2"><use href="#dl" x="136"/></g><g id="n64-3"><use href="#dl" x="188"/></g><g id="n64-4"><use href="#dl" x="240"/></g><g id="n64-5"><use href="#dl" x="292"/></g><g id="n64-6"><use href="#dl" x="344"/></g><g id="n64-7"><use href="#dl" x="396"/></g><g id="n64-8"><use href="#dl" x="448"/></g><g id="n64-9"><use href="#dl" x="500"/></g><g id="n64-10"><use href="#dl" x="552"/></g><g id="n64-11"><use href="#dl" x="604"/></g></g>
<g id="row65" transform="translate(0 3390)"><g id="n65-1"><use href="#dr" x="84"/></g><g id="n65-2"><use href="#dr" x="136"/></g><g id="n65-3"><use href="#dr" x="188"/></g><g id="n65-4"><use href="#dr" x="240"/></g><g id="n65-5"><use href="#dr" x="292"/></g><g id="n65-6"><use href="#dr" x="344"/></g><g id="n65-7"><use href="#dr" x="396"/></g><g id="n65-8"><use href="#dr" x="448"/></g><g id="n65-9"><use href="#dr" x="500"/></g><g id="n65-10"><use href="#dr" x="552"/></g><g id="n65-11"><use href="#dr" x="604"/></g></g>
<g id="row66" transform="translate(0 3442)"><g id="n66-1"><use href="#dl" x="84"/></g><g id="n66-2"><use href="#dl" x="136"/></g><g id="n66-3"><use href="#dl" x="188"/></g><g id="n66-4"><use href="#dl" x="240"/></g><g id="n66-5"><use href="#dl" x="292"/></g><g id="n66-6"><use href="#dl" x="344"/></g><g id="n66-7"><use href="#dl" x="396"/></g><g id="n66-8"><use href="#dl" x="448"/></g><g id="n66-9"><use href="#dl" x="500"/></g><g id="n66-10"><use href="#dl" x="552"/></g><g id="n66-11"><use href="#dl" x="604"/></g></g>
<g id="row67" transform="translate(0 3494)"><g id="n67-1"><use href="#dr" x="84"/></g><g id="n67-2"><use href="#dr" x="136"/></g><g id="n67-3"><use href="#dr" x="188"/></g><g id="n67-4"><use href="#dr" x="240"/></g><g id="n67-5"><use href="#dr" x="292"/></g><g id="n67-6"><use href="#dr" x="344"/></g><g id="n67-7"><use href="#dr" x="396"/></g><g id="n67-8"><use href="#dr" x="448"/></g><g id="n67-9"><use href="#dr" x="500"/></g><g id="n67-10"><use href="#dr" x="552"/></g><g id="n67-11"><use href="#dr" x="604"/></g></g>
<g id="row68" transform="translate(0 3546)"><g id="n68-1"><use href="#dl" x="84"/></g><g id="n68-2"><use href="#dl" x="136"/></g><g id="n68-3"><use href="#dl" x="188"/></g><g id="n68-4"><use href="#dl" x="240"/></g><g id="n68-5"><use href="#dl" x="292"/></g><g id="n68-6"><use href="#dl" x="344"/></g><g id="n68-7"><use href="#dl" x="396"/></g><g id="n68-8"><use href="#dl" x="448"/></g><g id="n68-9"><use href="#dl" x="500"/></g><g id="n68-10"><use href="#dl" x="552"/></g><g id="n68-11"><use href="#dl" x="604"/></g></g>
<g id="row69" transform="translate(0 3598)"><g id="n69-1"><use href="#dr" x="84"/></g><g id="n69-2"><use href="#dr" x="136"/></g><g id="n69-3"><use href="#dr" x="188"/></g><g id="n69-4"><use href="#dr" x="240"/></g><g id="n69-5"><use href="#dr" x="292"/></g><g id="n69-6"><use href="#dr" x="344"/></g><g id="n69-7"><use href="#dr" x="396"/></g><g id="n69-8"><use href="#dr" x="448"/></g><g id="n69-9"><use href="#dr" x="500"/></g><g id="n69-10"><use href="#dr" x="552"/></g><g id="n69-11"><use href="#dr" x="604"/></g></g>
<g id="row70" transform="translate(0 3650)"><g id="n70-1"><use href="#dl" x="84"/></g><g id="n70-2"><use href="#dl" x="136"/></g><g id="n70-3"><use href="#dl" x="188"/></g><g id="n70-4"><use href="#dl" x="240"/></g><g id="n70-5"><use href="#dl" x="292"/></g><g id="n70-6"><use href="#dl" x="344"/></g><g id="n70-7"><use href="#dl" x="396"/></g><g id="n70-8"><use href="#dl" x="448"/></g><g id="n70-9"><use href="#dl" x="500"/></g><g id="n70-10"><use href="#dl" x="552"/></g><g id="n70-11"><use href="#dl" x="604"/></g></g>
<g id="row71" transform="translate(0 3702)"><g id="n71-1"><use href="#dr" x="84"/></g><g id="n71-2"><use href="#dr" x="136"/></g><g id="n71-3"><use href="#dr" x="188"/></g><g id="n71-4"><use href="#dr" x="240"/></g><g id="n71-5"><use href="#dr" x="292"/></g><g id="n71-6"><use href="#dr" x="344"/></g><g id="n71-7"><use href="#dr" x="396"/></g><g id="n71-8"><use href="#dr" x="448"/></g><g id="n71-9"><use href="#dr" x="500"/></g><g id="n71-10"><use href="#dr" x="552"/></g><g id="n71-11"><use href="#dr" x="604"/></g></g>
</g>
<text id="watermark" class="wm" x="344" y="1913" textLength="153">BRACELETBOOK.COM</text>
</svg>
